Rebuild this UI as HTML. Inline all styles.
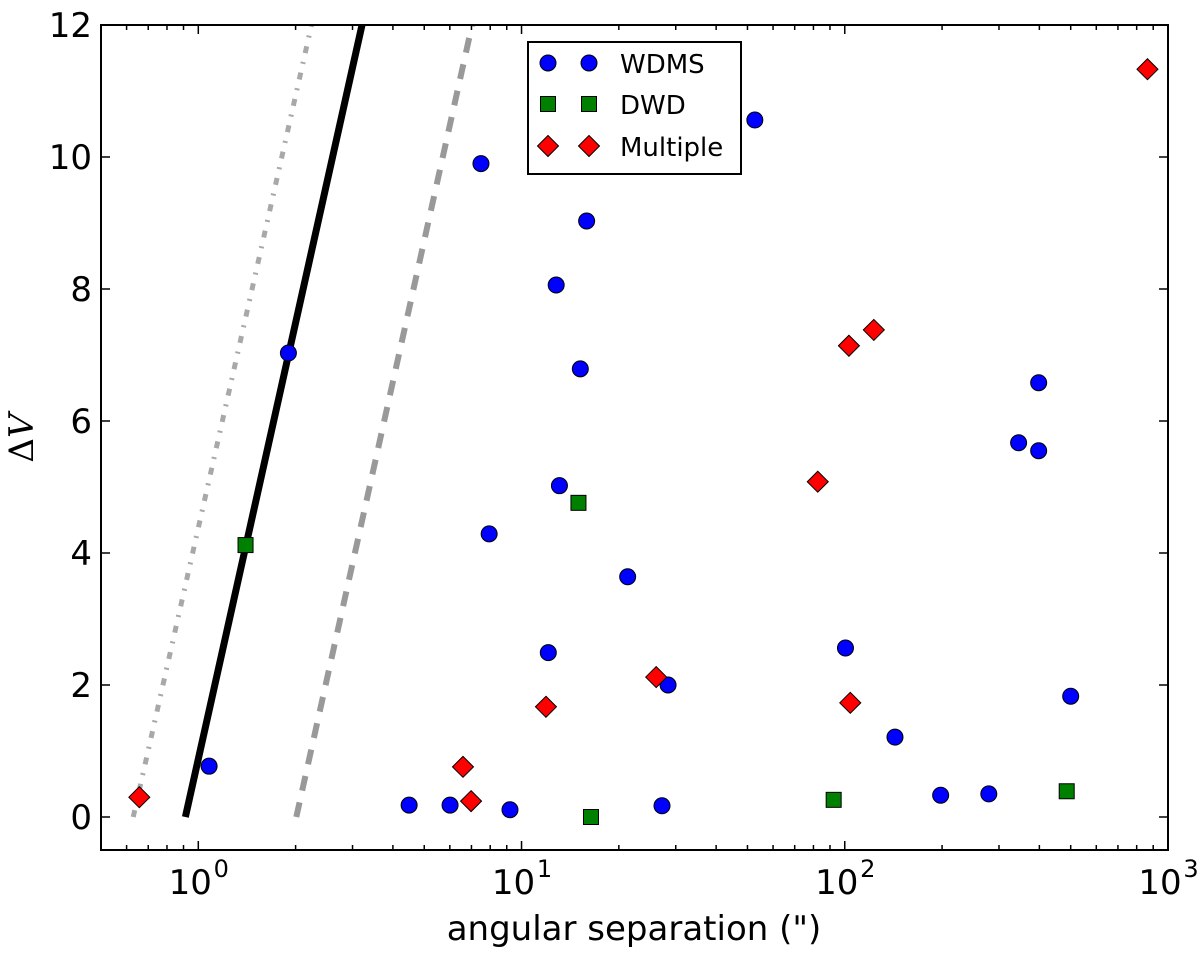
<!DOCTYPE html>
<html><head><meta charset="utf-8"><style>
body{margin:0;background:#fff}
svg{display:block;font-family:"DejaVu Sans","Liberation Sans",sans-serif}
</style></head><body>
<svg id="chart" width="1200" height="953" viewBox="0 0 1200 953" xmlns="http://www.w3.org/2000/svg">
<g id="lines"></g>
<g id="marks"></g>
<g id="axes"></g>
<g id="legend"></g>
</svg>
<script>
const wdmsSep=[1.08,1.90,4.49,6.01,7.49,7.94,9.21,12.1,12.8,13.1,15.2,15.9,21.3,27.2,28.4,52.7,100.5,143,198,279,345,398,398,500];
const wdmsDV=[0.77,7.03,0.18,0.18,9.9,4.29,0.11,2.49,8.06,5.02,6.79,9.03,3.64,0.17,2.0,10.56,2.56,1.21,0.33,0.35,5.67,6.58,5.55,1.83];
const dwdSep=[1.40,15.0,16.4,92.4,486];
const dwdDV=[4.12,4.76,0.0,0.26,0.39];
const multSep=[0.657,6.59,6.98,11.9,26.1,82.5,103,104,123,864];
const multDV=[0.3,0.76,0.24,1.67,2.12,5.08,7.14,1.73,7.38,11.33];
const solidLine=[[0.912,0],[3.21,12]];
const dashedLine=[[2.01,0],[7.03,12]];
const dashdotLine=[[0.629,0],[2.24,12]];
const yTicks=[0,2,4,6,8,10,12];
const xDecades=[0,1,2,3];

const L=101,R=1168,T=25,B=850;
const xmin=Math.log10(0.5),xmax=3,ymin=-0.5,ymax=12;
const X=v=>L+(Math.log10(v)-xmin)/(xmax-xmin)*(R-L);
const Y=v=>B-(v-ymin)/(ymax-ymin)*(B-T);
const NS="http://www.w3.org/2000/svg";
function mk(tag,attrs,parent){const e=document.createElementNS(NS,tag);for(const k in attrs)e.setAttribute(k,attrs[k]);parent.appendChild(e);return e;}
const gl=document.getElementById('lines'),gm=document.getElementById('marks'),ga=document.getElementById('axes'),gg=document.getElementById('legend');

const defs=mk('clipPath',{id:'clip'},document.getElementById('chart'));
mk('rect',{x:L,y:T,width:R-L,height:B-T},defs);
gl.setAttribute('clip-path','url(#clip)');
function drawLine(pts,style,name){
  const e=mk('line',Object.assign({x1:X(pts[0][0]),y1:Y(pts[0][1]),x2:X(pts[1][0]),y2:Y(pts[1][1])},style),gl);
  
  
}
drawLine(dashdotLine,{stroke:'#9a9a9a',"stroke-width":5,"stroke-dasharray":"7 9 2 9",opacity:0.85},'dashdot-line');
drawLine(solidLine,{stroke:'#000',"stroke-width":7},'solid-line');
drawLine(dashedLine,{stroke:'#999',"stroke-width":6,"stroke-dasharray":"15 12"},'dashed-line');

function circle(x,y,p){return mk('circle',{cx:x,cy:y,r:8,fill:'#0000ff',stroke:'#000',"stroke-width":1},p);}
function square(x,y,p){return mk('rect',{x:x-7.5,y:y-7.5,width:15,height:15,fill:'#008000',stroke:'#000',"stroke-width":1},p);}
function diamond(x,y,p){return mk('polygon',{points:`${x},${y-10.5} ${x+10.5},${y} ${x},${y+10.5} ${x-10.5},${y}`,fill:'#ff0000',stroke:'#000',"stroke-width":1},p);}
wdmsSep.forEach((s,i)=>{const e=circle(X(s),Y(wdmsDV[i]),gm);

});
dwdSep.forEach((s,i)=>{const e=square(X(s),Y(dwdDV[i]),gm);

});
multSep.forEach((s,i)=>{const e=diamond(X(s),Y(multDV[i]),gm);

});

const fr=mk('rect',{x:L,y:T,width:R-L,height:B-T,fill:'none',stroke:'#000',"stroke-width":2},ga);


yTicks.forEach(v=>{const y=Y(v);
mk('line',{x1:L,y1:y,x2:L+9,y2:y,stroke:'#000',"stroke-width":1.5},ga);
mk('line',{x1:R,y1:y,x2:R-9,y2:y,stroke:'#000',"stroke-width":1.5},ga);
const t=mk('text',{x:L-9,y:y+12,"text-anchor":"end","font-size":34},ga);t.textContent=v;

});
for(let d=-1;d<3;d++){for(let m=1;m<10;m++){const v=m*Math.pow(10,d);if(v<0.5||v>1000)continue;const x=X(v);const len=m===1?9:5;
mk('line',{x1:x,y1:B,x2:x,y2:B-len,stroke:'#000',"stroke-width":1.5},ga);
mk('line',{x1:x,y1:T,x2:x,y2:T+len,stroke:'#000',"stroke-width":1.5},ga);}}
xDecades.forEach(d=>{const x=X(Math.pow(10,d));
const t=mk('text',{x:x-8,y:B+44,"text-anchor":"middle","font-size":34},ga);
t.textContent='10';


const s=mk('text',{x:x+23,y:B+27,"text-anchor":"middle","font-size":24},ga);s.textContent=d;});
const xl=mk('text',{x:634,y:B+90,"text-anchor":"middle","font-size":34},ga);xl.textContent='angular separation (")';


const yl=mk('text',{x:0,y:0,"text-anchor":"middle","font-size":34,"font-family":"DejaVu Serif, Liberation Serif, serif",transform:"translate(33,438) rotate(-90)"},ga);
yl.innerHTML='Δ<tspan font-style="italic">V</tspan>';



const lb=mk('rect',{x:528,y:42,width:213,height:132,fill:'#fff',stroke:'#000',"stroke-width":2},gg);


const entries=[['WDMS',circle,63],['DWD',square,104],['Multiple',diamond,146]];
entries.forEach(([lab,fn,y])=>{fn(548,y,gg);fn(589,y,gg);
const t=mk('text',{x:620,y:y+10,"font-size":26},gg);t.textContent=lab;

});
</script>
</body></html>
